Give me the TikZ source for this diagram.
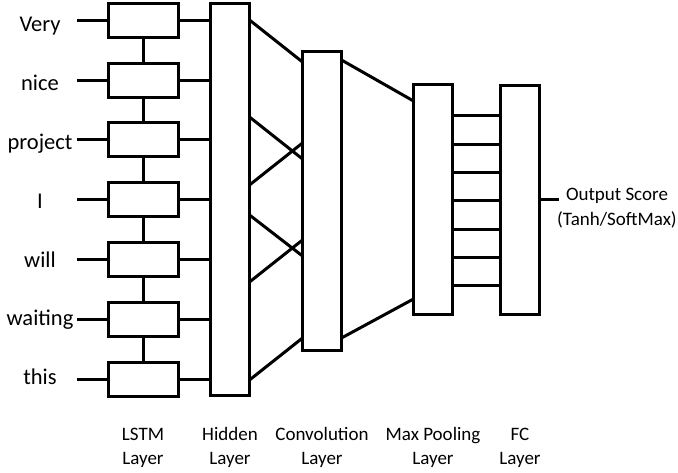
\documentclass[tikz,border=0pt]{standalone}
\usepackage{fontspec}
\setmainfont{Carlito}
\begin{document}
\begin{tikzpicture}[x=1pt,y=-1pt,
  box/.style={draw, line width=3pt, inner sep=0pt, outer sep=0pt, minimum width=39pt},
  lstm/.style={box, minimum width=70pt, minimum height=34pt},
  word/.style={font=\fontsize{22.5}{26}\selectfont, anchor=base, inner sep=0pt},
  lab/.style={font=\fontsize{19}{24}\selectfont, align=center, anchor=base, inner sep=0pt},
  conn/.style={draw, line width=3pt}]
\useasboundingbox (0,0) rectangle (678,473);
% LSTM column and words
\foreach \w [count=\i] in {Very,nice,project,I,will,waiting,this} {
  \pgfmathsetmacro\yy{20.5+59.75*(\i-1)}
  \pgfmathsetmacro\yb{32+58.8*(\i-1)}
  \node[lstm] (l\i) at (143.5,\yy) {};
  \node[word] (w\i) at (40,\yb) {\w};
  \coordinate (s\i) at (77,\yy);
  \draw[conn] (s\i) -- (l\i.west);
}
\foreach \i in {1,...,6} {
  \pgfmathtruncatemacro\j{\i+1}
  \draw[conn] (l\i.south) -- (l\j.north);
}
% layers
\node[box, minimum height=392pt] (h) at (230,199.5) {};
\node[box, minimum height=299pt] (c) at (322,201) {};
\node[box, minimum height=230pt] (m) at (433,199.5) {};
\node[box, minimum height=229pt] (f) at (520,200) {};
\foreach \i in {1,...,7} {
  \draw[conn] (l\i.east) -- (l\i.east -| h.west);
}
% hidden -> convolution
\draw[conn] (h.east |- 0,20)  -- (c.west |- 0,62);
\draw[conn] (h.east |- 0,117) -- (c.west |- 0,159);
\draw[conn] (h.east |- 0,185) -- (c.west |- 0,143);
\draw[conn] (h.east |- 0,215) -- (c.west |- 0,256);
\draw[conn] (h.east |- 0,282) -- (c.west |- 0,240);
\draw[conn] (h.east |- 0,380) -- (c.west |- 0,338);
% convolution -> max pooling
\draw[conn] (c.east |- 0,60)  -- (m.west |- 0,101);
\draw[conn] (c.east |- 0,338) -- (m.west |- 0,299);
% max pooling -> FC
\foreach \k in {0,...,6} {
  \draw[conn] (m.east |- 0,116+28.33*\k) -- (f.west |- 0,116+28.33*\k);
}
% output
\node[font=\fontsize{19}{25}\selectfont, align=center, inner sep=0pt] (o) at (617,208) {Output Score\\(Tanh/SoftMax)};
\coordinate (oe) at (559,200);
\draw[conn] (f.east) -- (oe);
% bottom labels
\node[lab] (t1) at (143,464) {LSTM\\Layer};
\node[lab] (t2) at (230,464) {Hidden\\Layer};
\node[lab] (t3) at (322,464) {Convolution\\Layer};
\node[lab] (t4) at (433,464) {Max Pooling\\Layer};
\node[lab] (t5) at (520,464) {FC\\Layer};
\end{tikzpicture}
\end{document}
